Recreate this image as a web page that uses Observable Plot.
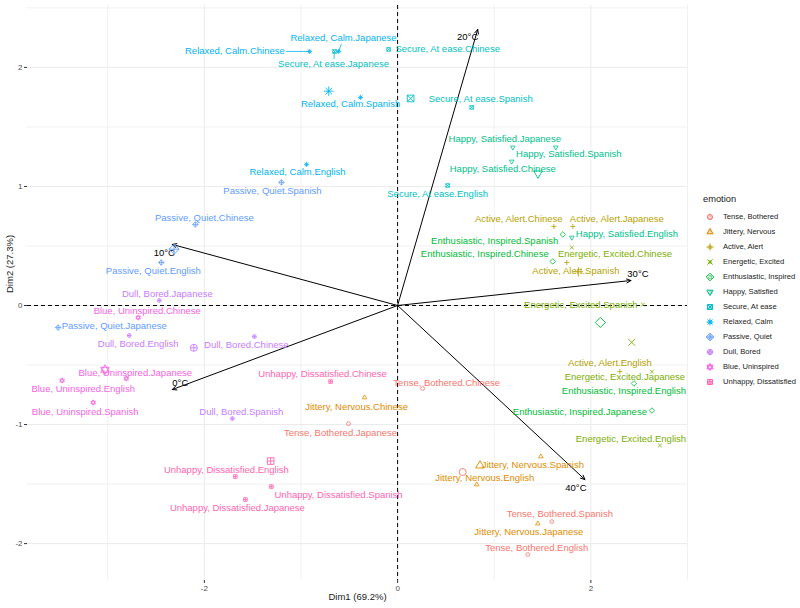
<!DOCTYPE html>
<html><head><meta charset="utf-8">
<script src="https://cdn.jsdelivr.net/npm/d3@7"></script>
<script src="https://cdn.jsdelivr.net/npm/@observablehq/plot@0.6"></script>
<style>
body{margin:0;background:#fff;font-family:"Liberation Sans",Arial,sans-serif;}
#wrap{position:relative;width:800px;height:608px;overflow:hidden;}
</style></head><body><div id="wrap"></div>
<script>
// ---------- data ----------
const emotions = ["Tense, Bothered","Jittery, Nervous","Active, Alert","Energetic, Excited","Enthusiastic, Inspired","Happy, Satisfied","Secure, At ease","Relaxed, Calm","Passive, Quiet","Dull, Bored","Blue, Uninspired","Unhappy, Dissatisfied"];
const emotionColors = ["#F8766D","#DE8C00","#B79F00","#7CAE00","#00BA38","#00C08B","#00BFC4","#00B4F0","#619CFF","#C77CFF","#F564E3","#FF64B0"];
const languages = ["Chinese","English","Japanese","Spanish"];
// Dim1 / Dim2 coordinates per emotion, in language order
const dim1Values = [
  [0.259, 1.347, -0.508, 1.596],
  [-0.342, 0.819, 1.451, 1.482],
  [1.617, 2.30, 1.813, 1.751],
  [1.803, 2.715, 2.632, 2.539],
  [1.606, 2.446, 2.632, 1.710],
  [1.181, 1.803, 1.192, 1.637],
  [-0.093, 0.518, -0.653, 0.767],
  [-0.912, -0.943, -0.611, -0.383],
  [-2.093, -2.446, -3.513, -1.202],
  [-1.482, -2.777, -2.466, -1.710],
  [-2.684, -3.472, -2.808, -3.150],
  [-0.694, -1.679, -1.575, -1.306]
];
const dim2Values = [
  [-0.697, -2.092, -0.992, -1.815],
  [-0.773, -1.504, -1.832, -1.269],
  [0.664, -0.555, 0.664, 0.361],
  [0.487, -1.176, -0.555, 0.008],
  [0.370, -0.655, -0.882, 0.597],
  [1.210, 0.571, 1.328, 1.328],
  [2.151, 1.008, 2.134, 1.664],
  [2.134, 1.185, 2.134, 1.748],
  [0.681, 0.361, -0.185, 1.034],
  [-0.261, -0.252, 0.042, -0.950],
  [-0.101, -0.630, -0.613, -0.815],
  [-0.639, -1.437, -1.630, -1.521]
];
// repelled label anchors (data units)
const labelDim1 = [
  [0.508, 1.440, -0.591, 1.679],
  [-0.425, 0.902, 1.358, 1.399],
  [1.254, 2.197, 2.269, 1.845],
  [2.249, 2.415, 2.352, 1.896],
  [0.902, 2.342, 1.886, 1.005],
  [1.088, 2.373, 1.109, 1.772],
  [0.518, 0.415, -0.663, 0.860],
  [-1.684, -1.036, -0.560, -0.487],
  [-2.0, -2.528, -2.933, -1.295],
  [-1.565, -2.684, -2.383, -1.617],
  [-2.591, -3.254, -2.715, -3.233],
  [-0.777, -1.772, -1.658, -0.611]
];
const labelDim2 = [
  [-0.647, -2.034, -1.067, -1.748],
  [-0.849, -1.445, -1.899, -1.336],
  [0.723, -0.479, 0.723, 0.286],
  [0.429, -1.118, -0.597, 0.008],
  [0.429, -0.714, -0.891, 0.538],
  [1.151, 0.605, 1.395, 1.269],
  [2.151, 0.941, 2.025, 1.731],
  [2.134, 1.118, 2.244, 1.689],
  [0.739, 0.294, -0.176, 0.966],
  [-0.328, -0.319, 0.101, -0.891],
  [-0.042, -0.697, -0.563, -0.891],
  [-0.571, -1.378, -1.697, -1.588]
];
const segmentLabels = ["Relaxed, Calm.Chinese","Relaxed, Calm.Japanese","Secure, At ease.Japanese"];
// supplementary quantitative variables (temperature)
const tempNames = ["0°C","10°C","20°C","30°C","40°C"];
const tempDim1 = [-2.332, -2.332, 0.829, 2.415, 1.938];
const tempDim2 = [-0.706, 0.513, 2.319, 0.210, -1.462];
const tempLabelDim1 = [-2.249, -2.415, 0.725, 2.487, 1.845];
const tempLabelDim2 = [-0.647, 0.445, 2.252, 0.269, -1.529];
const xTicks = [-2, 0, 2];
const yTicks = [-2, -1, 0, 1, 2];
const xMinor = [-3, -1, 1, 3];
const yMinor = [-1.5, -0.5, 0.5, 1.5, 2.5];
const xTitle = "Dim1 (69.2%)";
const yTitle = "Dim2 (27.3%)";

// ---------- ggplot-like shapes ----------
function shape(draw){ return {draw(ctx, size){ draw(ctx, Math.sqrt(size / Math.PI)); }}; }
const pCircle = (c, r) => { c.moveTo(r, 0); c.arc(0, 0, r, 0, 2 * Math.PI); c.closePath(); };
const pPlus = (c, a) => { c.moveTo(-a, 0); c.lineTo(a, 0); c.moveTo(0, -a); c.lineTo(0, a); };
const pTimes = (c, a) => { c.moveTo(-a, -a); c.lineTo(a, a); c.moveTo(-a, a); c.lineTo(a, -a); };
const pTri = (c, a, d) => { c.moveTo(0, -d * a); c.lineTo(a * 0.866, d * a * 0.5); c.lineTo(-a * 0.866, d * a * 0.5); c.closePath(); };
const pDiamond = (c, a) => { c.moveTo(0, -a); c.lineTo(a, 0); c.lineTo(0, a); c.lineTo(-a, 0); c.closePath(); };
const pSquare = (c, a) => { c.moveTo(-a, -a); c.lineTo(a, -a); c.lineTo(a, a); c.lineTo(-a, a); c.closePath(); };
const shapes = [
  shape((c, r) => pCircle(c, r)),
  shape((c, r) => pTri(c, r * 1.4, 1)),
  shape((c, r) => pPlus(c, r * 1.35)),
  shape((c, r) => pTimes(c, r * 1.0)),
  shape((c, r) => pDiamond(c, r * 1.45)),
  shape((c, r) => pTri(c, r * 1.4, -1)),
  shape((c, r) => { pSquare(c, r * 0.95); pTimes(c, r * 0.95); }),
  shape((c, r) => { pPlus(c, r * 1.35); pTimes(c, r * 0.95); }),
  shape((c, r) => { pDiamond(c, r * 1.45); pPlus(c, r * 1.45); }),
  shape((c, r) => { pCircle(c, r); pPlus(c, r); }),
  shape((c, r) => { pTri(c, r * 1.4, 1); pTri(c, r * 1.4, -1); }),
  shape((c, r) => { pSquare(c, r * 0.95); pPlus(c, r * 0.95); })
];

// ---------- layout ----------
const W = 800, H = 608, mL = 27, mR = 113, mT = 5, mB = 28;
const xDomain = [-3.83, 3.0], yDomain = [-2.31, 2.52];
const xs = d3.scaleLinear(xDomain, [mL, W - mR]);
const ys = d3.scaleLinear(yDomain, [H - mB, mT]);
const FONT = "Liberation Sans, Arial, Helvetica, sans-serif";
const LABEL_SIZE = 9.5;

// ---------- derived tables ----------
const points = emotions.flatMap((e, i) => languages.map((l, j) => ({
  emotion: e, name: `${e}.${l}`,
  x: dim1Values[i][j], y: dim2Values[i][j],
  lx: labelDim1[i][j], ly: labelDim2[i][j]
})));
const centroids = emotions.map((e, i) => ({emotion: e, x: d3.mean(dim1Values[i]), y: d3.mean(dim2Values[i])}));
const temps = tempNames.map((n, i) => ({name: n, x: tempDim1[i], y: tempDim2[i], lx: tempLabelDim1[i], ly: tempLabelDim2[i]}));

const mctx = document.createElement("canvas").getContext("2d");
mctx.font = `${LABEL_SIZE}px "Liberation Sans"`;
const segs = points.filter(p => segmentLabels.includes(p.name)).map(p => {
  const cx = xs(p.lx), cy = ys(p.ly), px = xs(p.x), py = ys(p.y);
  const w = mctx.measureText(p.name).width / 2 + 1.5, h = 5.5;
  const dx = px - cx, dy = py - cy;
  const t = Math.min(dx ? w / Math.abs(dx) : Infinity, dy ? h / Math.abs(dy) : Infinity);
  return {...p, x1: xs.invert(cx + t * dx), y1: ys.invert(cy + t * dy)};
});

const grid = "#ebebeb";
const plot = Plot.plot({
  width: W, height: H,
  marginLeft: mL, marginRight: mR, marginTop: mT, marginBottom: mB,
  style: {fontFamily: FONT, background: "white", overflow: "visible"},
  x: {domain: xDomain, axis: null},
  y: {domain: yDomain, axis: null},
  color: {domain: emotions, range: emotionColors},
  symbol: {domain: emotions, range: shapes},
  marks: [
    Plot.gridX(xMinor, {stroke: grid, strokeOpacity: 1, strokeWidth: 0.7}),
    Plot.gridY(yMinor, {stroke: grid, strokeOpacity: 1, strokeWidth: 0.7}),
    Plot.gridX(xTicks, {stroke: grid, strokeOpacity: 1, strokeWidth: 1}),
    Plot.gridY(yTicks, {stroke: grid, strokeOpacity: 1, strokeWidth: 1}),
    Plot.axisX(xTicks, {tickSize: 3, tickPadding: 2, fontSize: 8, color: "#4d4d4d", stroke: "#333", label: null, tickFormat: d => String(d)}),
    Plot.axisY(yTicks, {tickSize: 3, tickPadding: 2, fontSize: 8, color: "#4d4d4d", stroke: "#333", label: null, tickFormat: d => String(d)}),
    Plot.text([xTitle], {frameAnchor: "bottom", dy: 19, text: d => d, fontSize: 9.5, fill: "#1a1a1a"}),
    Plot.text([yTitle], {frameAnchor: "left", dx: -18, rotate: -90, text: d => d, fontSize: 9.5, fill: "#1a1a1a"}),
    Plot.ruleX([0], {stroke: "black", strokeWidth: 1, strokeDasharray: "4,3"}),
    Plot.ruleY([0], {stroke: "black", strokeWidth: 1, strokeDasharray: "4,3"}),
    Plot.arrow(temps, {x1: 0, y1: 0, x2: "x", y2: "y", stroke: "black", strokeWidth: 1, headLength: 7, headAngle: 50}),
    Plot.text(temps, {x: "lx", y: "ly", text: "name", fill: "black", fontSize: LABEL_SIZE}),
    Plot.link(segs, {x1: "x1", y1: "y1", x2: "x", y2: "y", stroke: "emotion", strokeWidth: 0.8}),
    Plot.dot(points, {x: "x", y: "y", symbol: "emotion", stroke: "emotion", fill: "none", r: 1.9, strokeWidth: 0.8}),
    Plot.dot(centroids, {x: "x", y: "y", symbol: "emotion", stroke: "emotion", fill: "none", r: 3.5, strokeWidth: 0.9}),
    Plot.text(points, {x: "lx", y: "ly", text: "name", fill: "emotion", fontSize: LABEL_SIZE})
  ]
});
const wrap = document.getElementById("wrap");
wrap.append(plot);

// ---------- legend (ggplot style, right side) ----------
const colorScale = plot.scale("color");
const leg = d3.select(wrap).append("svg")
  .attr("width", 110).attr("height", 210)
  .style("position", "absolute").style("left", "690px").style("top", "185px")
  .style("font-family", FONT);
leg.append("text").attr("x", 13).attr("y", 15).attr("dominant-baseline", "middle")
  .attr("font-size", 9.3).attr("fill", "#1a1a1a").text("emotion");
emotions.forEach((e, i) => {
  const g = leg.append("g").attr("transform", `translate(20,${32 + 15 * i})`);
  const col = colorScale.apply(e);
  g.append("text").attr("text-anchor", "middle").attr("dominant-baseline", "middle")
    .attr("font-size", 8).attr("fill", col).attr("opacity", 0.8).text("a");
  g.append("path").attr("d", d3.symbol(shapes[i], 2.6 * 2.6 * Math.PI)())
    .attr("fill", "none").attr("stroke", col).attr("stroke-width", 1);
  leg.append("text").attr("x", 33).attr("y", 32 + 15 * i).attr("dominant-baseline", "middle")
    .attr("font-size", 7.6).attr("fill", "#1a1a1a").text(e);
});
</script>
</body></html>
